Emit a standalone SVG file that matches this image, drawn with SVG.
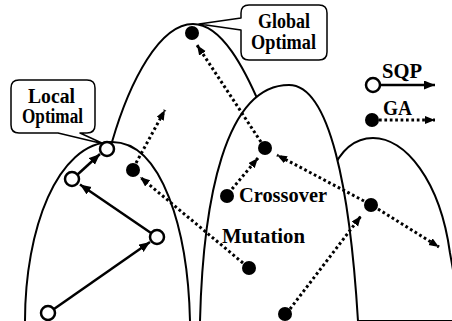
<svg xmlns="http://www.w3.org/2000/svg" width="452" height="321" viewBox="0 0 452 321">
  <style>
    .hill { fill: #fff; stroke: #000; stroke-width: 2; }
    .hill-open { fill: none; stroke: #000; stroke-width: 2; }
    .callout { fill: #fff; stroke: #000; stroke-width: 1.5; stroke-linejoin: round; }
    .lbl { font-family: "Liberation Serif", "Times New Roman", serif; font-weight: bold; font-size: 20px; fill: #000; }
    .sqp { stroke: #000; stroke-width: 2.5; fill: none; marker-end: url(#head); }
    .ga { stroke: #000; stroke-width: 3; fill: none; stroke-dasharray: 2.7 2.7; marker-end: url(#head-s); }
    .open { fill: #fff; stroke: #000; stroke-width: 2.5; }
    .dot { fill: #000; }
  </style>
  <defs>
    <marker id="head" markerUnits="userSpaceOnUse" markerWidth="12" markerHeight="10" refX="11" refY="4.5" orient="auto">
      <path d="M0,0 L11,4.5 L0,9 z" fill="#000"/>
    </marker>
    <marker id="head-s" markerUnits="userSpaceOnUse" markerWidth="11" markerHeight="10" refX="10" refY="4" orient="auto">
      <path d="M0,0 L10,4 L0,8 z" fill="#000"/>
    </marker>
  </defs>

  <!-- landscape: tall peak at the back, then right, middle and left hills in front -->
  <g id="hills">
    <path id="hill-tall" class="hill-open" d="M 95 321 C 100 260, 104 170, 112 142 C 130 80, 160 24, 193 24 C 222 24, 245 70, 260 105 C 280 150, 295 250, 300 321"/>
    <path id="hill-right" class="hill" d="M 315 321 L 315 260 C 318 190, 335 138, 373 138 C 405 138, 440 180, 450 253 C 455 280, 458 300, 460 321 Z"/>
    <path id="hill-middle" class="hill" d="M 200 321 C 203 200, 225 85, 289 85 C 330 85, 350 190, 358 321"/>
    <path id="hill-left" class="hill" d="M 25 321 C 25 230, 57 142, 112 142 C 162 142, 188 230, 190 321"/>
  </g>

  <!-- callouts -->
  <g id="callout-local">
    <path class="callout" d="M 19 80 H 87 Q 95 80 95 88 V 125 Q 95 133 87 133 H 80 L 104 144 L 58 133 H 19 Q 11 133 11 125 V 88 Q 11 80 19 80 Z"/>
    <text class="lbl" x="28" y="103" textLength="47" lengthAdjust="spacingAndGlyphs">Local</text>
    <text class="lbl" x="22" y="123" textLength="61" lengthAdjust="spacingAndGlyphs">Optimal</text>
  </g>
  <g id="callout-global">
    <path class="callout" d="M 249 5 H 319 Q 327 5 327 13 V 52 Q 327 60 319 60 H 249 Q 241 60 241 52 V 30 L 199 24 L 241 18 V 13 Q 241 5 249 5 Z"/>
    <text class="lbl" x="258" y="28" textLength="52" lengthAdjust="spacingAndGlyphs">Global</text>
    <text class="lbl" x="251" y="49" textLength="65" lengthAdjust="spacingAndGlyphs">Optimal</text>
  </g>

  <!-- connectors: SQP steps (solid) and GA moves (dotted) -->
  <g id="connectors">
    <line class="sqp" x1="54" y1="309" x2="150" y2="242"/>
    <line class="sqp" x1="151" y1="233" x2="80" y2="184.5"/>
    <line class="sqp" x1="77" y1="175" x2="100" y2="154"/>

    <line class="ga" x1="261" y1="142" x2="197" y2="45"/>
    <line class="ga" x1="136" y1="163" x2="165" y2="110"/>
    <line class="ga" x1="243" y1="263" x2="140" y2="177"/>
    <line class="ga" x1="232" y1="189" x2="258" y2="158"/>
    <line class="ga" x1="364" y1="201" x2="277" y2="155"/>
    <line class="ga" x1="378" y1="209" x2="439" y2="247"/>
    <line class="ga" x1="290" y1="309" x2="361" y2="216"/>

    <line class="sqp" x1="380" y1="85" x2="435" y2="85"/>
    <line class="ga" x1="379" y1="120" x2="435" y2="120"/>
  </g>

  <!-- search points -->
  <g id="sqp-1"><circle class="open" cx="48" cy="313" r="7"/></g>
  <g id="sqp-2"><circle class="open" cx="157" cy="237" r="7"/></g>
  <g id="sqp-3"><circle class="open" cx="72" cy="179" r="7"/></g>
  <g id="sqp-4"><circle class="open" cx="107" cy="149" r="7"/></g>

  <g id="ga-global"><circle class="dot" cx="192" cy="33" r="7"/></g>
  <g id="ga-parent"><circle class="dot" cx="265" cy="148" r="7"/></g>
  <g id="ga-left"><circle class="dot" cx="133" cy="170" r="7"/></g>
  <g id="ga-crossover"><circle class="dot" cx="227" cy="196" r="7"/></g>
  <g id="ga-right"><circle class="dot" cx="371" cy="205" r="7"/></g>
  <g id="ga-mutation"><circle class="dot" cx="249" cy="268" r="7"/></g>
  <g id="ga-bottom"><circle class="dot" cx="285" cy="314" r="7"/></g>

  <!-- operator labels -->
  <g id="label-crossover"><text class="lbl" x="239" y="202" textLength="88" lengthAdjust="spacingAndGlyphs">Crossover</text></g>
  <g id="label-mutation"><text class="lbl" x="222" y="243" textLength="83" lengthAdjust="spacingAndGlyphs">Mutation</text></g>

  <!-- legend -->
  <g id="legend-sqp">
    <circle class="open" cx="373" cy="85" r="7"/>
    <text class="lbl" x="382" y="78" textLength="40" lengthAdjust="spacingAndGlyphs">SQP</text>
  </g>
  <g id="legend-ga">
    <circle class="dot" cx="372" cy="120" r="7"/>
    <text class="lbl" x="383" y="115" textLength="29" lengthAdjust="spacingAndGlyphs">GA</text>
  </g>
</svg>
